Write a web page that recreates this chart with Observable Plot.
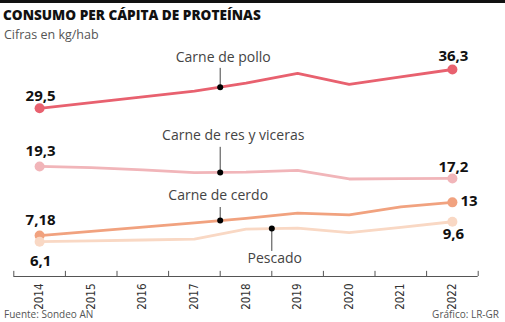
<!DOCTYPE html>
<html>
<head>
<meta charset="utf-8">
<script src="https://cdn.jsdelivr.net/npm/d3@7"></script>
<script src="https://cdn.jsdelivr.net/npm/@observablehq/plot@0.6"></script>
<style>
  html, body { margin: 0; padding: 0; background: #fff; }
  #wrap { position: relative; width: 505px; height: 322px; overflow: hidden; font-family: "Open Sans", sans-serif; }
  #bar { position: absolute; left: 0; top: 0; width: 505px; height: 3px; background: #111; }
  #title { position: absolute; left: 3px; top: 5px; font-size: 13.6px; font-weight: 800; color: #111; white-space: nowrap; }
  #subtitle { position: absolute; left: 4px; top: 26px; font-size: 12.5px; color: #555; white-space: nowrap; }
  #chart { position: absolute; left: 0; top: 44px; }
  #source { position: absolute; left: 4px; top: 307px; font-size: 10px; color: #555; }
  #credit { position: absolute; right: 6px; top: 307px; font-size: 10px; color: #555; }
</style>
</head>
<body>
<div id="wrap">
  <div id="bar"></div>
  <div id="title">CONSUMO PER CÁPITA DE PROTEÍNAS</div>
  <div id="subtitle">Cifras en kg/hab</div>
  <div id="chart"></div>
  <div id="source">Fuente: Sondeo AN</div>
  <div id="credit">Gráfico: LR-GR</div>
</div>
<script>
const years = [2014, 2015, 2016, 2017, 2018, 2019, 2020, 2021, 2022];
const pollo = [29.5, 30.5, 31.5, 32.5, 33.9, 35.6, 33.7, 35.0, 36.3];
const res = [19.3, 19.1, 18.7, 18.2, 18.3, 18.6, 17.1, 17.15, 17.2];
const cerdo = [7.18, 7.9, 8.65, 9.4, 10.2, 11.1, 10.8, 12.2, 13];
const pescado = [6.1, 6.25, 6.4, 6.55, 8.3, 8.5, 7.7, 8.6, 9.6];
const seriesNames = ["Carne de pollo", "Carne de res y viceras", "Carne de cerdo", "Pescado"];
const seriesValues = [pollo, res, cerdo, pescado];

// styles / layout (not data)
const colors = ["#e8616f", "#f1b5b9", "#f1a27f", "#f9d8c4"];
const annoYearOffset = [0, 0, 0, 1];
const annoLeader = [3.3, 4.4, 2.3, -4.0];
const annoDy = [-29.5, -37, -25, 30];
const annoDx = [3, 13, -2, 3];
const startDy = [-12, -15.5, -15, 19];
const endDy = [-13, -11.5, -1, 12.5];

const fmt = v => String(v).replace(".", ",");

const rows = [];
seriesNames.forEach((name, i) => {
  years.forEach((yr, j) => rows.push({name, i, year: yr, value: seriesValues[i][j]}));
});
const ends = [];
seriesNames.forEach((name, i) => {
  const v = seriesValues[i];
  ends.push({i, year: years[0], value: v[0], pos: "start"});
  ends.push({i, year: years[years.length - 1], value: v[v.length - 1], pos: "end"});
});
const annos = seriesNames.map((name, i) => {
  const k = 3 + annoYearOffset[i];
  const v = seriesValues[i];
  return {i, name, x: (years[k] + years[k + 1]) / 2, y: (v[k] + v[k + 1]) / 2};
});
const bounds = years.map(y => y - 0.5).concat([years[years.length - 1] + 0.5]);

const labelFont = "'Open Sans', sans-serif";
const chart = Plot.plot({
  width: 505,
  height: 262,
  marginLeft: 0, marginRight: 0, marginTop: 0, marginBottom: 30,
  x: {domain: [years[0] - 0.5, years[years.length - 1] + 0.5], range: [13.3, 477.7], axis: null},
  y: {domain: [0, 36.3], range: [232, 25], axis: null},
  style: {fontFamily: labelFont, background: "transparent", overflow: "visible"},
  marks: [
    Plot.ruleY([0], {x1: bounds[0], x2: bounds[bounds.length - 1], stroke: "#555", strokeWidth: 1}),
    Plot.ruleX(bounds, {y1: 0, y2: 0.9, stroke: "#555", strokeWidth: 1}),
    Plot.axisX(years, {
      tickSize: 0, tickPadding: 7, tickRotate: -90, tickFormat: d => String(d),
      fontSize: 11.5, fill: "#333", label: null,
      fontFamily: "'Liberation Sans Narrow', 'DejaVu Sans Condensed', sans-serif"
    }),
    Plot.line(rows, {x: "year", y: "value", z: "name", stroke: d => colors[d.i], strokeWidth: 2.8}),
    Plot.dot(ends, {x: "year", y: "value", r: 5, fill: d => colors[d.i], stroke: "none"}),
    Plot.ruleX(annos, {x: "x", y1: "y", y2: d => d.y + annoLeader[d.i], stroke: "#444", strokeWidth: 1}),
    Plot.dot(annos, {x: "x", y: "y", r: 3, fill: "#000", stroke: "none"}),
    ...annos.map(a => Plot.text([a], {x: "x", y: "y", text: "name", dx: annoDx[a.i], dy: annoDy[a.i], fontSize: 14, fill: "#444"})),
    ...ends.map(e => Plot.text([e], {
      x: "year", y: "value", text: d => fmt(d.value),
      textAnchor: (e.i === 2 && e.pos === "end") ? "start" : "middle",
      dx: (e.i === 2 && e.pos === "end") ? 8 : 1,
      dy: e.pos === "start" ? startDy[e.i] : endDy[e.i],
      fontSize: 15, fontWeight: 700, fill: "#111"
    }))
  ]
});
document.getElementById("chart").appendChild(chart);
</script>
</body>
</html>
